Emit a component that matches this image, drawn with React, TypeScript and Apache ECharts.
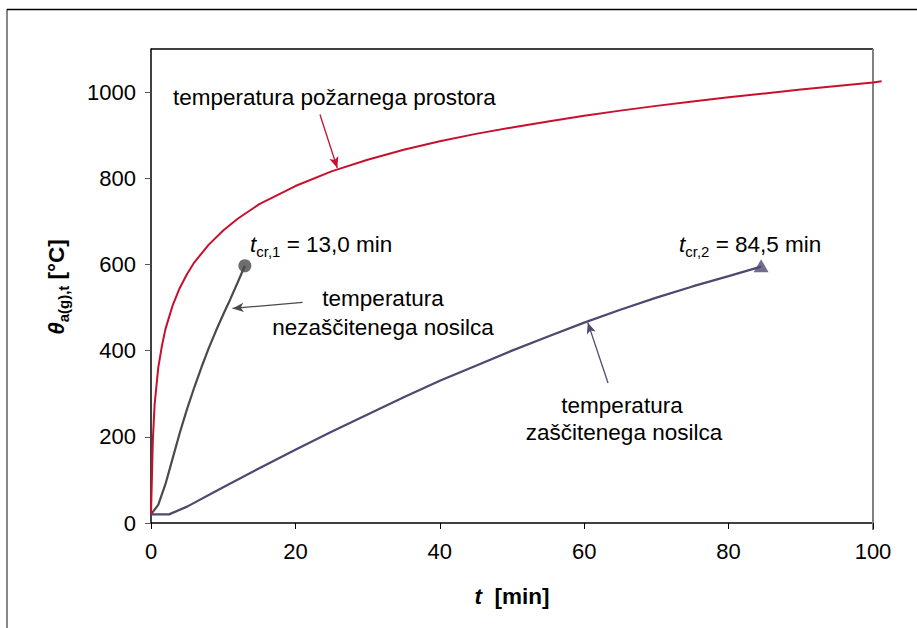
import React, { useEffect, useRef } from "react";
import * as echarts from "echarts";

// fire compartment temperature (red)
const fireT = [0, 0.25, 0.5, 1, 1.5, 2, 3, 4, 5, 6, 8, 10, 12, 15, 20, 25, 30, 35, 40, 45, 50, 55, 60, 65, 70, 75, 80, 85, 90, 95, 100, 101.2];
const fireTemp = [20, 190, 275, 360, 410, 450, 505, 546, 578, 605, 646, 679, 706, 740, 782, 816, 843, 866, 886, 903, 918, 932, 945, 957, 968, 978, 988, 997, 1006, 1014, 1022, 1025];

// unprotected beam temperature (dark grey)
const unprotT = [0, 1, 2, 3, 4, 5, 6, 7, 8, 9, 10, 11, 12, 13];
const unprotTemp = [20, 42, 90, 150, 210, 265, 315, 362, 406, 446, 484, 520, 558, 597];

// protected beam temperature (purple)
const protT = [0, 2.5, 5, 10, 15, 20, 25, 30, 35, 40, 45, 50, 55, 60, 65, 70, 75, 80, 84.5];
const protTemp = [20, 20, 38, 83, 127, 170, 212, 252, 292, 330, 365, 400, 433, 465, 495, 523, 549, 573, 595];

// critical points
const critical1 = [13.0, 597];
const critical2 = [84.5, 597];

const xTicks = [0, 20, 40, 60, 80, 100];
const yTicks = [0, 200, 400, 600, 800, 1000];
const X_MAX = 101.2; // red curve runs slightly past the 100 min border

const RED = "#c8102e";
const GREY = "#4a4a4a";
const PURPLE = "#4f4870";
const FONT = "'Liberation Sans', Arial, Helvetica, sans-serif";

const zip = (a: number[], b: number[]) => a.map((v, i) => [v, b[i]]);

export default function App() {
  const ref = useRef<HTMLDivElement>(null);
  useEffect(() => {
    if (!ref.current) return;
    const chart = echarts.init(ref.current, null, { renderer: "svg" });
    const plotLeft = 151;
    const plotRight = 873; // pixel of t = 100
    const plotBottom = 523;
    const plotTop = 49;
    const gridWidth = ((plotRight - plotLeft) * X_MAX) / 100;
    const sub = (size: number) => ({
      fontFamily: FONT,
      fontSize: size,
      color: "#000",
      lineHeight: size,
      verticalAlign: "bottom",
    });
    const main = (extra: any = {}) => ({
      fontFamily: FONT,
      fontSize: 22.5,
      color: "#000",
      lineHeight: 30,
      verticalAlign: "middle",
      ...extra,
    });
    const plainText = (x: number, y: number, text: string, align = "center") => ({
      type: "text",
      x,
      y,
      silent: true,
      style: {
        text,
        fontFamily: FONT,
        fontSize: 22.5,
        fill: "#000",
        textAlign: align,
        textVerticalAlign: "middle",
      },
    });
    chart.setOption({
      animation: false,
      backgroundColor: "#fff",
      grid: {
        left: plotLeft,
        right: 917 - plotLeft - gridWidth,
        top: plotTop,
        bottom: 628 - plotBottom,
        containLabel: false,
      },
      xAxis: {
        type: "value",
        min: 0,
        max: X_MAX,
        axisLine: { show: false },
        axisTick: { show: true, length: 6, lineStyle: { color: "#000" }, customValues: xTicks },
        axisLabel: {
          customValues: xTicks,
          formatter: (v: number) => String(v),
          fontFamily: FONT,
          fontSize: 22,
          color: "#000",
          margin: 17,
        },
        splitLine: { show: false },
      },
      yAxis: {
        type: "value",
        min: 0,
        max: 1100,
        axisLine: { show: true, onZero: false, lineStyle: { color: "#000", width: 1.5 } },
        axisTick: { show: true, length: 6, lineStyle: { color: "#555" }, customValues: yTicks },
        axisLabel: {
          customValues: yTicks,
          formatter: (v: number) => String(v),
          fontFamily: FONT,
          fontSize: 22,
          color: "#000",
          margin: 15,
        },
        splitLine: { show: false },
      },
      series: [
        {
          type: "line",
          data: zip(fireT, fireTemp),
          showSymbol: false,
          clip: false,
          lineStyle: { color: RED, width: 2 },
          itemStyle: { color: RED },
          z: 5,
          markLine: {
            silent: true,
            symbol: ["none", "arrow"],
            symbolSize: [7, 11],
            label: { show: false },
            lineStyle: { color: RED, width: 1.3, type: "solid" },
            data: [[{ coord: [23.4, 948] }, { coord: [25.8, 824] }]],
          },
        },
        {
          type: "line",
          data: zip(unprotT, unprotTemp),
          showSymbol: false,
          lineStyle: { color: GREY, width: 2.2 },
          itemStyle: { color: GREY },
          markLine: {
            silent: true,
            symbol: ["none", "arrow"],
            symbolSize: [7, 11],
            label: { show: false },
            lineStyle: { color: GREY, width: 1.3, type: "solid" },
            data: [[{ coord: [21.0, 512] }, { coord: [11.3, 498] }]],
          },
        },
        {
          type: "line",
          data: zip(protT, protTemp),
          showSymbol: false,
          lineStyle: { color: PURPLE, width: 2.2 },
          itemStyle: { color: PURPLE },
          markLine: {
            silent: true,
            symbol: ["none", "arrow"],
            symbolSize: [7, 11],
            label: { show: false },
            lineStyle: { color: PURPLE, width: 1.3, type: "solid" },
            data: [[{ coord: [63.3, 325] }, { coord: [60.5, 465] }]],
          },
        },
        {
          type: "scatter",
          data: [critical1],
          symbol: "circle",
          symbolSize: 13,
          itemStyle: { color: GREY },
          silent: true,
        },
        {
          type: "scatter",
          data: [critical2],
          symbol: "triangle",
          symbolSize: [15, 13],
          itemStyle: { color: PURPLE },
          silent: true,
        },
      ],
      graphic: [
        // outer frame
        { type: "line", silent: true, shape: { x1: 7, y1: 9, x2: 7, y2: 628 }, style: { stroke: "#888", lineWidth: 2 } },
        { type: "line", silent: true, shape: { x1: 7, y1: 9.5, x2: 917, y2: 9.5 }, style: { stroke: "#000", lineWidth: 1.5 } },
        // plot box: bottom (x axis), top & right
        { type: "line", silent: true, z: -1, shape: { x1: plotLeft, y1: plotBottom, x2: plotRight, y2: plotBottom }, style: { stroke: "#000", lineWidth: 1.3 } },
        { type: "line", silent: true, z: -1, shape: { x1: plotLeft, y1: plotTop, x2: plotRight, y2: plotTop }, style: { stroke: "#000", lineWidth: 1.3 } },
        { type: "line", silent: true, z: -1, shape: { x1: plotRight, y1: plotTop, x2: plotRight, y2: 530 }, style: { stroke: "#808080", lineWidth: 2 } },
        // y title
        {
          type: "text",
          x: 56,
          y: 287,
          rotation: Math.PI / 2,
          silent: true,
          style: {
            text: "{a|θ}{s|a(g),t}{b| [°C]}",
            textAlign: "center",
            textVerticalAlign: "middle",
            rich: {
              a: main({ fontWeight: "bold", fontStyle: "italic" }),
              s: { ...sub(15), fontWeight: "bold" },
              b: main({ fontWeight: "bold" }),
            },
          },
        },
        // x title
        {
          type: "text",
          x: 512,
          y: 596,
          silent: true,
          style: {
            text: "{a|t}{b|  [min]}",
            textAlign: "center",
            textVerticalAlign: "middle",
            rich: {
              a: main({ fontWeight: "bold", fontStyle: "italic" }),
              b: main({ fontWeight: "bold" }),
            },
          },
        },
        plainText(173, 97, "temperatura požarnega prostora", "left"),
        {
          type: "text",
          x: 250,
          y: 244,
          silent: true,
          style: {
            text: "{a|t}{s|cr,1}{b| = 13,0 min}",
            textAlign: "left",
            textVerticalAlign: "middle",
            rich: { a: main({ fontStyle: "italic" }), s: sub(15), b: main() },
          },
        },
        plainText(383, 298, "temperatura"),
        plainText(383, 327, "nezaščitenega nosilca"),
        {
          type: "text",
          x: 679,
          y: 244,
          silent: true,
          style: {
            text: "{a|t}{s|cr,2}{b| = 84,5 min}",
            textAlign: "left",
            textVerticalAlign: "middle",
            rich: { a: main({ fontStyle: "italic" }), s: sub(15), b: main() },
          },
        },
        plainText(622, 405, "temperatura"),
        plainText(624, 432, "zaščitenega nosilca"),
      ],
    });
    return () => chart.dispose();
  }, []);
  return (
    <div
      ref={ref}
      style={{ position: "fixed", left: 0, top: 0, width: 917, height: 628, background: "#fff" }}
    />
  );
}
